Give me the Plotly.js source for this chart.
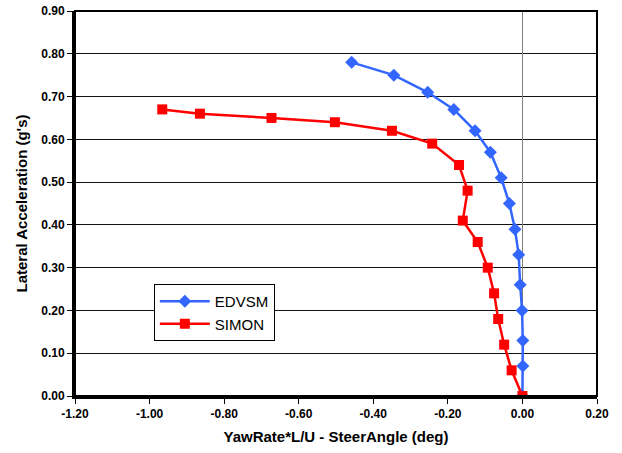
<!DOCTYPE html>
<html>
<head>
<meta charset="utf-8">
<script src="https://cdn.plot.ly/plotly-3.0.1.min.js"></script>
<style>html,body{margin:0;padding:0;background:#fff;}#chart{width:622px;height:453px;}</style>
</head>
<body>
<div id="chart"></div>
<script>
const edvsmX = [-0.458, -0.345, -0.254, -0.184, -0.127, -0.086, -0.057, -0.035, -0.020, -0.010, -0.006, -0.001, 0.001, 0.001, 0.0];
const edvsmY = [0.78, 0.75, 0.71, 0.67, 0.62, 0.57, 0.51, 0.45, 0.39, 0.33, 0.26, 0.20, 0.13, 0.07, 0.0];
const simonX = [-0.966, -0.865, -0.673, -0.503, -0.350, -0.242, -0.170, -0.147, -0.160, -0.120, -0.093, -0.076, -0.065, -0.049, -0.029, 0.0];
const simonY = [0.67, 0.66, 0.65, 0.64, 0.62, 0.59, 0.54, 0.48, 0.41, 0.36, 0.30, 0.24, 0.18, 0.12, 0.06, 0.0];
const seriesNames = ['EDVSM', 'SIMON'];
const xTickVals = [-1.2, -1.0, -0.8, -0.6, -0.4, -0.2, 0.0, 0.2];
const xTickLabels = ['-1.20', '-1.00', '-0.80', '-0.60', '-0.40', '-0.20', '0.00', '0.20'];
const xTitle = 'YawRate*L/U - SteerAngle (deg)';
const yTitle = "Lateral Acceleration (g's)";

const data = [
  {x: edvsmX, y: edvsmY, name: seriesNames[0], mode: 'lines+markers', type: 'scatter',
   line: {color: '#3366FF', width: 2.5}, marker: {symbol: 'diamond', size: 10, color: '#3366FF'}},
  {x: simonX, y: simonY, name: seriesNames[1], mode: 'lines+markers', type: 'scatter',
   line: {color: '#FF0000', width: 2.5}, marker: {symbol: 'square', size: 10, color: '#FF0000'}}
];

const layout = {
  width: 622, height: 453,
  margin: {l: 75, r: 25, t: 11, b: 57},
  paper_bgcolor: '#fff', plot_bgcolor: '#fff',
  font: {family: 'Liberation Sans, Arial, sans-serif', color: '#000'},
  showlegend: true,
  legend: {x: 0.151, y: 0.291, xanchor: 'left', yanchor: 'top', bgcolor: '#fff',
    bordercolor: '#000', borderwidth: 1, font: {size: 15}, traceorder: 'normal',
    tracegroupgap: 0, itemwidth: 50},
  xaxis: {
    range: [-1.2, 0.2], tickmode: 'array', tickvals: xTickVals, ticktext: xTickLabels,
    showgrid: false, zeroline: true, zerolinecolor: '#808080', zerolinewidth: 1,
    showline: true, linecolor: '#000', linewidth: 3, mirror: false,
    ticks: 'outside', ticklen: 5, tickcolor: '#000', tickwidth: 1,
    tickfont: {size: 12, family: 'Liberation Sans, Arial, sans-serif', weight: 'bold'},
    title: {text: '<b>' + xTitle + '</b>', font: {size: 15}, standoff: 12},
    fixedrange: true
  },
  yaxis: {
    range: [0, 0.9], dtick: 0.1, tick0: 0, tickformat: '.2f',
    showgrid: true, gridcolor: '#111', gridwidth: 1, zeroline: false,
    showline: true, linecolor: '#000', linewidth: 3, mirror: false,
    ticks: 'outside', ticklen: 5, tickcolor: '#000', tickwidth: 1,
    tickfont: {size: 12, family: 'Liberation Sans, Arial, sans-serif', weight: 'bold'},
    title: {text: '<b>' + yTitle + '</b>', font: {size: 15}, standoff: 10},
    fixedrange: true
  },
  shapes: [
    {type: 'rect', xref: 'paper', yref: 'paper', x0: 0, x1: 1, y0: 0, y1: 1,
     line: {color: '#000', width: 2}, fillcolor: 'rgba(0,0,0,0)', layer: 'above'}
  ]
};

Plotly.newPlot('chart', data, layout, {displayModeBar: false, staticPlot: true});
</script>
</body>
</html>
